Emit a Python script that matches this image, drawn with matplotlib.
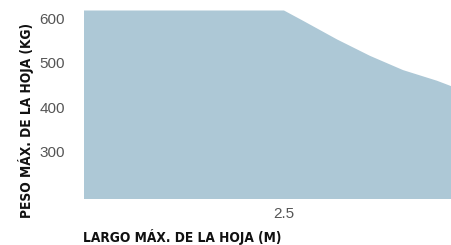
import matplotlib
matplotlib.use('Agg')
import matplotlib.pyplot as plt
from matplotlib import font_manager

# largo max (m) vs peso max (kg)
largo = [1.5, 2.5, 2.595, 2.765, 2.93, 3.095, 3.265, 3.335]
peso = [618, 618, 595, 553, 516, 484, 460, 448]
yticks = [300, 400, 500, 600]
xticks = [2.5]

names = {f.name for f in font_manager.fontManager.ttflist}
fnt = [n for n in ['Liberation Sans Narrow', 'DejaVu Sans Condensed'] if n in names] + ['DejaVu Sans']

fig = plt.figure(figsize=(4.51, 2.45), dpi=100)
ax = fig.add_axes([84/451, 46/245, 367/451, 188.5/245])
ax.fill_between(largo, peso, 0, color='#adc8d6', linewidth=0)
ax.set_xlim(1.5, 3.335)
ax.set_ylim(194, 618)

ax.set_yticks(yticks)
ax.set_xticks(xticks)
ax.set_xticklabels(['2.5'])
ax.tick_params(axis='both', length=0, labelsize=11, labelcolor='#555555')
ax.tick_params(axis='y', pad=13.5)
ax.tick_params(axis='x', pad=6)
for lab in ax.get_xticklabels() + ax.get_yticklabels():
    lab.set_family(['Liberation Sans', 'DejaVu Sans'])
for s in ax.spines.values():
    s.set_visible(False)

fig.text(26/451, 1 - 121/245, 'PESO MÁX. DE LA HOJA (KG)', rotation=90,
         ha='center', va='center', fontsize=9.8, fontweight='bold',
         fontstretch='condensed', family=fnt, color='#111111')
fig.text(83/451, 1 - 241.5/245, 'LARGO MÁX. DE LA HOJA (M)', ha='left',
         va='baseline', fontsize=9.8, fontweight='bold',
         fontstretch='condensed', family=fnt, color='#111111')

fig.savefig('out.png', dpi=100)
